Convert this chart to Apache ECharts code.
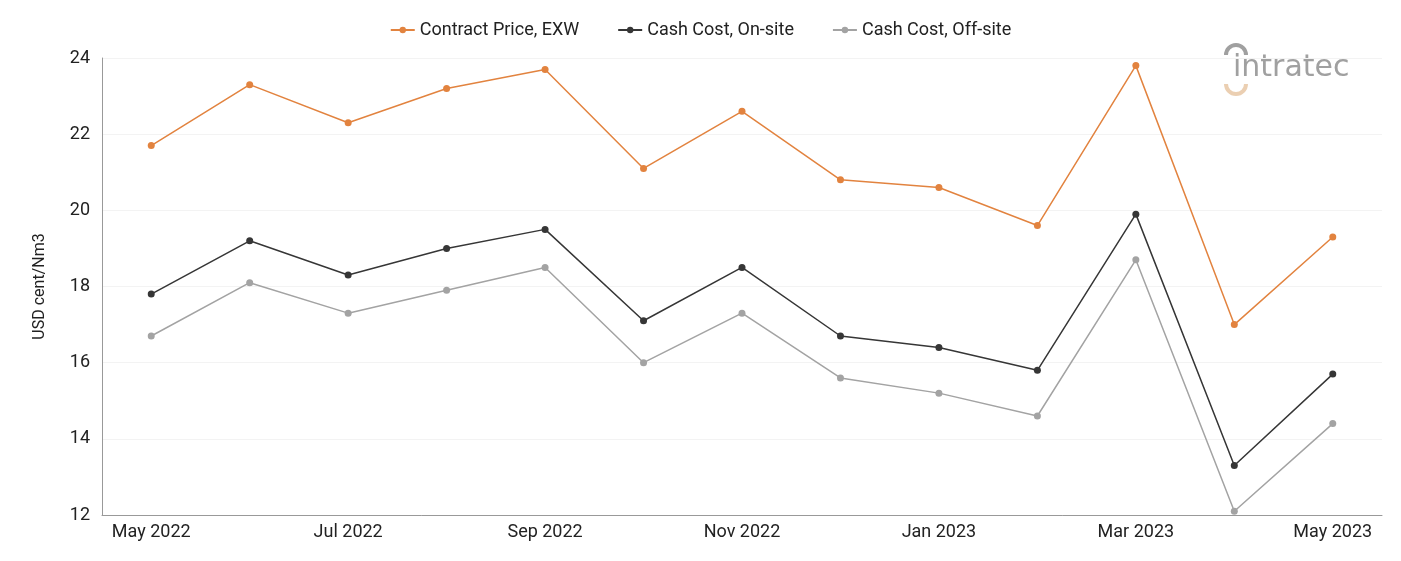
<!DOCTYPE html>
<html>
<head>
<meta charset="utf-8">
<script src="https://cdn.jsdelivr.net/npm/echarts@6/dist/echarts.min.js"></script>
<style>
  html, body { margin: 0; padding: 0; background: #fff; }
  #chart { width: 1401px; height: 561px; }
</style>
</head>
<body>
<div id="chart"></div>
<script>
var months = ['May 2022', 'Jun 2022', 'Jul 2022', 'Aug 2022', 'Sep 2022', 'Oct 2022', 'Nov 2022',
  'Dec 2022', 'Jan 2023', 'Feb 2023', 'Mar 2023', 'Apr 2023', 'May 2023'];
var contractPrice = [21.7, 23.3, 22.3, 23.2, 23.7, 21.1, 22.6, 20.8, 20.6, 19.6, 23.8, 17.0, 19.3];
var cashOnSite = [17.8, 19.2, 18.3, 19.0, 19.5, 17.1, 18.5, 16.7, 16.4, 15.8, 19.9, 13.3, 15.7];
var cashOffSite = [16.7, 18.1, 17.3, 17.9, 18.5, 16.0, 17.3, 15.6, 15.2, 14.6, 18.7, 12.1, 14.4];

var myChart = echarts.init(document.getElementById('chart'));

function line(name, data, color) {
  return {
    name: name,
    type: 'line',
    data: data,
    symbol: 'circle',
    symbolSize: 7,
    itemStyle: { color: color },
    lineStyle: { color: color, width: 1.5 }
  };
}

var option = {
  textStyle: { fontFamily: 'Roboto' },
  animation: false,
  legend: {
    top: 16,
    left: 'center',
    itemGap: 38,
    itemWidth: 24,
    itemHeight: 8,
    textStyle: { fontSize: 18, color: '#222' },
    data: ['Contract Price, EXW', 'Cash Cost, On-site', 'Cash Cost, Off-site']
  },
  grid: { left: 102, right: 19, top: 58, bottom: 46 },
  graphic: [
    {
      type: 'text',
      left: 1233,
      top: 53,
      style: { text: 'intratec', fontSize: 30, fill: '#a0a0a0', fontFamily: 'DejaVu Sans' }
    },
    {
      type: 'arc',
      shape: { cx: 1236, cy: 55, r: 10, startAngle: Math.PI, endAngle: Math.PI * 2 },
      style: { stroke: '#a0a0a0', lineWidth: 4, fill: null }
    },
    {
      type: 'arc',
      shape: { cx: 1236, cy: 84, r: 10, startAngle: 0, endAngle: Math.PI },
      style: { stroke: '#ebcfb2', lineWidth: 4, fill: null }
    }
  ],
  xAxis: {
    type: 'category',
    data: months,
    boundaryGap: true,
    axisLine: { lineStyle: { color: '#999' } },
    axisTick: { show: false },
    axisLabel: { interval: 1, fontSize: 18, color: '#222', margin: 8 }
  },
  yAxis: {
    type: 'value',
    min: 12,
    max: 24,
    interval: 2,
    name: 'USD cent/Nm3',
    nameLocation: 'middle',
    nameGap: 54,
    nameTextStyle: { fontSize: 16, color: '#222' },
    axisLine: { show: true, lineStyle: { color: '#999' } },
    axisTick: { show: false },
    axisLabel: { fontSize: 18, color: '#222', margin: 12 },
    splitLine: { lineStyle: { color: '#f3f3f3' } }
  },
  series: [
    line('Contract Price, EXW', contractPrice, '#e2833f'),
    line('Cash Cost, On-site', cashOnSite, '#363636'),
    line('Cash Cost, Off-site', cashOffSite, '#a3a3a3')
  ]
};

myChart.setOption(option, true);
</script>
</body>
</html>
